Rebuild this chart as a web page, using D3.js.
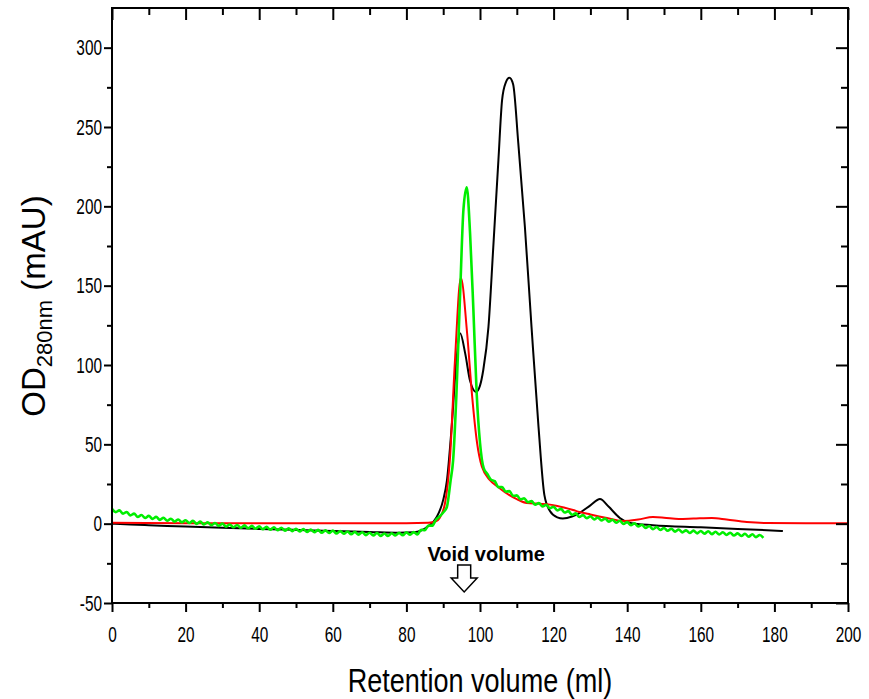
<!DOCTYPE html>
<html>
<head>
<meta charset="utf-8">
<script src="https://cdn.jsdelivr.net/npm/d3@7"></script>
<style>
  body { margin: 0; background: #fff; }
  svg { display: block; font-family: "Liberation Sans", Arial, sans-serif; }
</style>
</head>
<body>
<svg id="chart" width="869" height="699"></svg>
<script>
// tick labels
const xTicks = [0, 20, 40, 60, 80, 100, 120, 140, 160, 180, 200]
const xMinor = [10, 30, 50, 70, 90, 110, 130, 150, 170, 190]
const yTicks = [-50, 0, 50, 100, 150, 200, 250, 300]
const yMinor = [-25, 25, 75, 125, 175, 225, 275]

// black trace [ml, mAU]
const blackTrace = [
  [0, 0], [5, -0.6], [10, -1.0], [20, -1.8], [30, -2.6], [40, -3.3], [51, -4],
  [60, -4.6], [70, -5.2], [78, -5.7], [82, -5.4], [84, -4.3], [86, -1.5],
  [88.2, 4], [90, 15], [91, 27], [92.3, 61], [93.6, 103], [94.6, 120], [96, 107],
  [97.3, 90], [98.9, 83], [100, 87], [100.9, 97], [102.3, 124], [103.6, 174],
  [105, 229], [106, 267], [107, 278], [108, 281], [109, 277], [110.4, 240],
  [112.2, 187], [114, 124], [115.9, 61], [117.5, 18], [119, 8], [121, 4],
  [122.5, 3.3], [125, 4.5], [127, 6.7], [130, 11.5], [132.6, 15.5], [135, 10.6],
  [138, 3.6], [140.8, 0.4], [147, -1], [160, -2.3], [170, -3.3], [182.3, -4.6]
]

// red trace
const redTrace = [
  [0, 0.5], [20, 0.3], [40, 0.2], [60, 0.2], [80, 0.2], [86, 0.5], [88, 1.5],
  [89, 3.5], [90.5, 13], [91.8, 40], [93.2, 103], [94.8, 155], [96.5, 120],
  [97.8, 82], [99.2, 51], [100.5, 36], [102.7, 27.5], [105, 23], [107.3, 19],
  [110, 15.5], [112.7, 13], [116, 12.5], [119, 12], [121, 11.2], [125.3, 8.6],
  [127, 7.4], [130, 5.8], [134.5, 3.6], [139, 1.7], [143, 2.6], [147, 4.2],
  [150, 3.8], [154, 2.9], [158, 3.2], [163, 3.6], [167, 2.6], [172.5, 1],
  [178, 0.4], [190, 0.3], [200, 0.3]
]

// green trace, read with its ripple
const greenTrace = [
  [0, 9.4], [1, 7.3], [2, 8.4], [3, 6.3], [4, 7.4], [5, 5.2], [6, 6.3], [7, 4.2],
  [8, 5.5], [9, 3.6], [10, 4.9], [11, 3.0], [12, 4.3], [13, 2.4], [14, 3.7], [15, 1.8],
  [16, 3.1], [17, 1.3], [18, 2.6], [19, 0.8], [20, 2.2], [21, 0.4], [22, 1.8], [23, -0.1],
  [24, 1.3], [25, -0.5], [26, 0.9], [27, -1.0], [28, 0.4], [29, -1.4], [30, 0], [31, -1.9],
  [32, -0.5], [33, -2.3], [34, -0.8], [35, -2.6], [36, -1.1], [37, -2.9], [38, -1.4], [39, -3.2],
  [40, -1.7], [41, -3.5], [42, -2.0], [43, -3.8], [44, -2.3], [45, -4.1], [46, -2.6], [47, -4.4],
  [48, -2.9], [49, -4.7], [50, -3.2], [51, -4.9], [52, -3.4], [53, -5.2], [54, -3.7], [55, -5.4],
  [56, -3.9], [57, -5.7], [58, -4.2], [59, -5.9], [60, -4.4], [61, -6.2], [62, -4.7], [63, -6.4],
  [64, -4.9], [65, -6.7], [66, -5.2], [67, -6.9], [68, -5.4], [69, -7.2], [70, -5.7], [71, -7.4],
  [72, -5.9], [73, -7.7], [74, -6.2], [75, -7.7], [76, -6.0], [77, -7.5], [78, -5.8], [79, -7.3],
  [80, -5.5], [81, -7.0], [82, -5.3], [83, -6.8], [84, -3.9], [85, -4.1], [86, -1.2], [87, -1.3],
  [88, 2.3], [89, 4.5], [90, 7], [91, 10.5], [92, 27], [92.7, 40], [93.6, 82], [94.6, 145],
  [95.5, 198], [96.4, 212], [97.3, 183], [98.2, 135], [99.1, 82], [100, 51], [101, 35],
  [102, 31.3], [103, 27.7], [104, 26.8], [105, 23.0], [106, 23.1], [107, 20.2], [108, 20.5],
  [109, 17.5], [110, 17.8], [111, 15.3], [112, 16.0], [113, 13.5], [114, 14.2], [115, 11.9],
  [116, 13.0], [117, 10.8], [118, 11.9], [119, 9.8], [120, 10.7], [121, 8.4], [122, 9.3],
  [123, 7.0], [124, 7.9], [125, 5.6], [126, 6.5], [127, 4.2], [128, 5.4], [129, 3.4],
  [130, 4.7], [131, 2.7], [132, 3.9], [133, 2.0], [134, 3.2], [135, 1.3], [136, 2.5],
  [137, 0.6], [138, 1.8], [139, -0.2], [140, 1.0], [141, -1.0], [142, 0.2], [143, -1.8],
  [144, -0.7], [145, -2.7], [146, -1.5], [147, -3.5], [148, -2.1], [149, -4.0], [150, -2.7],
  [151, -4.5], [152, -3.2], [153, -5.0], [154, -3.7], [155, -5.5], [156, -4.2], [157, -5.9],
  [158, -4.4], [159, -6.1], [160, -4.6], [161, -6.3], [162, -4.8], [163, -6.6], [164, -5.1],
  [165, -6.8], [166, -5.4], [167, -7.1], [168, -5.7], [169, -7.5], [170, -6.1], [171, -7.8],
  [172, -6.4], [173, -8.2], [174, -6.7], [175, -8.5], [176, -7.1], [177, -8.9]
]

const voidVolume = 95.7

const margin = {top: 8, right: 21, bottom: 96, left: 112}
const width = 869 - margin.left - margin.right
const height = 699 - margin.top - margin.bottom
const squeeze = 0.7   // the figure's tick text is horizontally condensed

const svg = d3.select('#chart')
const graph = svg.append('g')
  .attr('transform', `translate(${margin.left}, ${margin.top})`)

const x = d3.scaleLinear().domain([0, 200]).range([0, width])
const y = d3.scaleLinear().domain([-50, 325]).range([height, 0])

const line = d3.line()
  .x(d => x(d[0]))
  .y(d => y(d[1]))
  .curve(d3.curveMonotoneX)

graph.append('path').datum(blackTrace)
  .attr('d', line).attr('fill', 'none')
  .attr('stroke', '#000').attr('stroke-width', 2)
graph.append('path').datum(redTrace)
  .attr('d', line).attr('fill', 'none')
  .attr('stroke', '#ff0000').attr('stroke-width', 2)
graph.append('path').datum(greenTrace)
  .attr('d', line).attr('fill', 'none')
  .attr('stroke', '#00ee00').attr('stroke-width', 2.6)

// ticks on all four sides
function styleAxis(g) {
  g.select('.domain').remove()
  g.selectAll('line').attr('stroke', '#000').attr('stroke-width', 2)
  g.selectAll('text')
    .attr('fill', '#000')
    .style('font-size', '22px')
}

const plain = d => String(d)

graph.append('g')
  .attr('transform', `translate(0, ${height})`)
  .call(d3.axisBottom(x).tickValues(xTicks).tickSize(9).tickPadding(14).tickFormat(plain))
  .call(styleAxis)
  .call(g => g.selectAll('text').attr('transform', `scale(${squeeze}, 1)`))
graph.append('g')
  .attr('transform', `translate(0, ${height})`)
  .call(d3.axisBottom(x).tickValues(xMinor).tickSize(5).tickFormat(''))
  .call(styleAxis)
graph.append('g')
  .call(d3.axisLeft(y).tickValues(yTicks).tickSize(8).tickPadding(3).tickFormat(plain))
  .call(styleAxis)
  .call(g => g.selectAll('text')
    .attr('x', -10 / squeeze)
    .attr('transform', `scale(${squeeze}, 1)`))
graph.append('g')
  .call(d3.axisLeft(y).tickValues(yMinor).tickSize(5).tickFormat(''))
  .call(styleAxis)
graph.append('g')
  .call(d3.axisTop(x).tickValues(xTicks).tickSize(-12).tickFormat(''))
  .call(styleAxis)
graph.append('g')
  .call(d3.axisTop(x).tickValues(xMinor).tickSize(-7).tickFormat(''))
  .call(styleAxis)
graph.append('g')
  .attr('transform', `translate(${width}, 0)`)
  .call(d3.axisRight(y).tickValues(yTicks).tickSize(-12).tickFormat(''))
  .call(styleAxis)
graph.append('g')
  .attr('transform', `translate(${width}, 0)`)
  .call(d3.axisRight(y).tickValues(yMinor).tickSize(-7).tickFormat(''))
  .call(styleAxis)

graph.append('rect')
  .attr('width', width).attr('height', height)
  .attr('fill', 'none').attr('stroke', '#000').attr('stroke-width', 2)

// void volume marker
const vx = x(voidVolume)
graph.append('text')
  .attr('x', vx + 22).attr('y', y(-23.5))
  .attr('text-anchor', 'middle')
  .style('font-size', '20px').style('font-weight', 'bold')
  .text('Void volume')
const arrowTop = y(-26), arrowNeck = y(-34.3), arrowTip = y(-43)
graph.append('path')
  .attr('d', `M${vx - 6.5},${arrowTop}H${vx + 6.5}V${arrowNeck}H${vx + 13}` +
    `L${vx},${arrowTip}L${vx - 13},${arrowNeck}H${vx - 6.5}Z`)
  .attr('fill', '#fff').attr('stroke', '#000').attr('stroke-width', 1.5)

// axis titles
svg.append('text')
  .attr('transform', `translate(${margin.left + width / 2}, 692) scale(0.82, 1)`)
  .attr('text-anchor', 'middle')
  .style('font-size', '33px')
  .text('Retention volume (ml)')

const yTitle = svg.append('text')
  .attr('transform', 'translate(45, 306) rotate(-90)')
  .attr('text-anchor', 'middle')
  .style('font-size', '33px')
yTitle.append('tspan').text('OD')
yTitle.append('tspan').attr('dy', 7).style('font-size', '22px').text('280nm')
yTitle.append('tspan').attr('dy', -7).text(' (mAU)')
</script>
</body>
</html>
